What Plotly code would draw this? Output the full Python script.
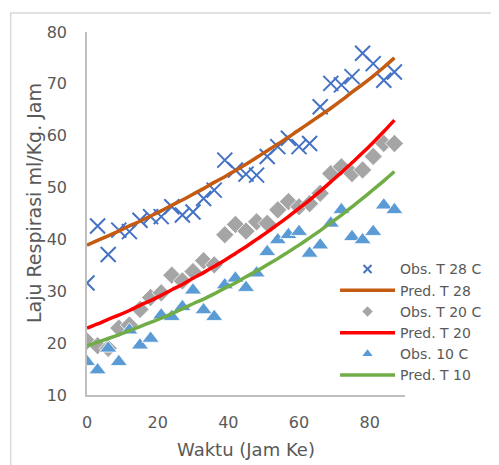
import plotly.graph_objects as go

hours = [0, 3, 6, 9, 12, 15, 18, 21, 24, 27, 30, 33, 36, 39, 42, 45, 48, 51, 54, 57,
         60, 63, 66, 69, 72, 75, 78, 81, 84, 87]

obs_t28 = [31.6, 42.6, 37.1, 41.8, 41.5, 43.7, 44.4, 44.4, 46.3, 44.7, 45.3, 47.9, 49.5, 55.3, 53.4,
           52.6, 52.4, 56.0, 57.9, 59.5, 57.9, 58.5, 65.6, 70.1, 69.8, 71.4, 75.9, 73.9, 70.7, 72.3]
pred_t28 = [38.9, 39.8, 40.7, 41.6, 42.6, 43.5, 44.5, 45.5, 46.6, 47.6, 48.7, 49.8, 51.0, 52.1, 53.3,
            54.5, 55.8, 57.1, 58.4, 59.7, 61.1, 62.5, 63.9, 65.3, 66.8, 68.4, 69.9, 71.5, 73.2, 75.0]

obs_t20 = [20.4, 19.5, 19.0, 22.9, 23.5, 26.5, 28.8, 29.7, 33.1, 32.0, 33.8, 35.9, 35.1, 40.9, 42.9,
           41.6, 43.4, 43.1, 45.7, 47.3, 46.3, 46.9, 48.9, 52.7, 54.0, 52.7, 53.4, 56.0, 58.5, 58.5]
pred_t20 = [22.9, 23.7, 24.6, 25.4, 26.3, 27.3, 28.2, 29.2, 30.3, 31.3, 32.5, 33.6, 34.8, 36.0, 37.3,
            38.6, 40.0, 41.4, 42.9, 44.4, 46.0, 47.6, 49.3, 51.1, 52.9, 54.8, 56.7, 58.7, 60.8, 63.0]

obs_t10 = [16.4, 14.8, 19.0, 16.4, 22.5, 19.6, 20.9, 25.4, 25.1, 27.0, 30.2, 26.4, 25.1, 31.2, 32.5,
           30.7, 33.5, 37.6, 39.9, 40.9, 41.5, 37.3, 38.9, 43.1, 45.7, 40.5, 39.9, 41.5, 46.6, 45.7]
pred_t10 = [19.5, 20.2, 20.9, 21.6, 22.4, 23.2, 24.0, 24.8, 25.7, 26.6, 27.6, 28.5, 29.5, 30.6, 31.6,
            32.8, 33.9, 35.1, 36.3, 37.6, 38.9, 40.3, 41.7, 43.2, 44.7, 46.3, 47.9, 49.6, 51.3, 53.1]

names = ["Obs. T 28 C", "Pred. T 28", "Obs. T 20 C", "Pred. T 20", "Obs. 10 C", "Pred. T 10"]
x_ticks = [0, 20, 40, 60, 80]
x_title = "Waktu (Jam Ke)"
y_title = "Laju Respirasi ml/Kg. Jam"

C_X = "#4472C4"
C_O = "#C55A11"
C_G = "#A5A5A5"
C_R = "#FF0000"
C_B = "#5B9BD5"
C_GR = "#70AD47"
TXT = "#595959"
FONT = "DejaVu Sans"

fig = go.Figure()

# data traces
fig.add_trace(go.Scatter(x=hours, y=obs_t28, mode="markers", showlegend=False,
                         marker=dict(symbol="x-thin", size=15, line=dict(color=C_X, width=2))))
fig.add_trace(go.Scatter(x=hours, y=pred_t28, mode="lines", showlegend=False,
                         line=dict(color=C_O, width=3.5, shape="spline")))
fig.add_trace(go.Scatter(x=hours, y=obs_t20, mode="markers", showlegend=False,
                         marker=dict(symbol="diamond", size=14, color=C_G, line=dict(color="white", width=0.8))))
fig.add_trace(go.Scatter(x=hours, y=pred_t20, mode="lines", showlegend=False,
                         line=dict(color=C_R, width=3.5, shape="spline")))
fig.add_trace(go.Scatter(x=hours, y=obs_t10, mode="markers", showlegend=False,
                         marker=dict(symbol="triangle-up", size=15, color=C_B, line=dict(color="white", width=0.8))))
fig.add_trace(go.Scatter(x=hours, y=pred_t10, mode="lines", showlegend=False,
                         line=dict(color=C_GR, width=3.5, shape="spline")))

# legend entries
fig.add_trace(go.Scatter(x=[None], y=[None], mode="markers", name=names[0],
                         marker=dict(symbol="x-thin", size=8, line=dict(color=C_X, width=2))))
fig.add_trace(go.Scatter(x=[None], y=[None], mode="lines", name=names[1],
                         line=dict(color=C_O, width=3.5)))
fig.add_trace(go.Scatter(x=[None], y=[None], mode="markers", name=names[2],
                         marker=dict(symbol="diamond", size=8, color=C_G)))
fig.add_trace(go.Scatter(x=[None], y=[None], mode="lines", name=names[3],
                         line=dict(color=C_R, width=3.5)))
fig.add_trace(go.Scatter(x=[None], y=[None], mode="markers", name=names[4],
                         marker=dict(symbol="triangle-up", size=9, color=C_B)))
fig.add_trace(go.Scatter(x=[None], y=[None], mode="lines", name=names[5],
                         line=dict(color=C_GR, width=3.5)))

# the page body has an 8px margin, so the figure is shifted by 8px; compensate
fig.update_layout(
    width=491, height=457,
    margin=dict(l=79, r=91, t=24, b=70),
    paper_bgcolor="white", plot_bgcolor="white",
    font=dict(family=FONT, color=TXT, size=15),
    legend=dict(x=0.78, y=0.39, xanchor="left", yanchor="top",
                bgcolor="rgba(0,0,0,0)", font=dict(family=FONT, size=14, color=TXT),
                itemwidth=55, tracegroupgap=0),
    xaxis=dict(range=[0, 90], tickvals=x_ticks, showgrid=False, zeroline=False,
               showline=True, linecolor="#BFBFBF", linewidth=1.5, ticks="",
               ticklabelstandoff=12, tickfont=dict(family=FONT, size=16, color=TXT)),
    yaxis=dict(range=[10, 80], dtick=10, showgrid=False, zeroline=False,
               showline=True, linecolor="#BFBFBF", linewidth=1.5, ticks="",
               ticklabelstandoff=15, tickfont=dict(family=FONT, size=16, color=TXT)),
    annotations=[
        dict(text=x_title, xref="paper", yref="paper", x=0.5, y=-0.1515,
             xanchor="center", yanchor="middle", showarrow=False,
             font=dict(family=FONT, size=18, color=TXT)),
        dict(text=y_title, xref="paper", yref="paper", x=-0.168, y=0.5275, textangle=-90,
             xanchor="center", yanchor="middle", showarrow=False,
             font=dict(family=FONT, size=19, color=TXT)),
    ],
    shapes=[dict(type="rect", xref="paper", yref="paper", x0=-0.24, x1=3, y0=-3, y1=1.052,
                 line=dict(color="#D9D9D9", width=1.5), fillcolor="rgba(0,0,0,0)", layer="below")],
)

fig.write_html("out.html")
